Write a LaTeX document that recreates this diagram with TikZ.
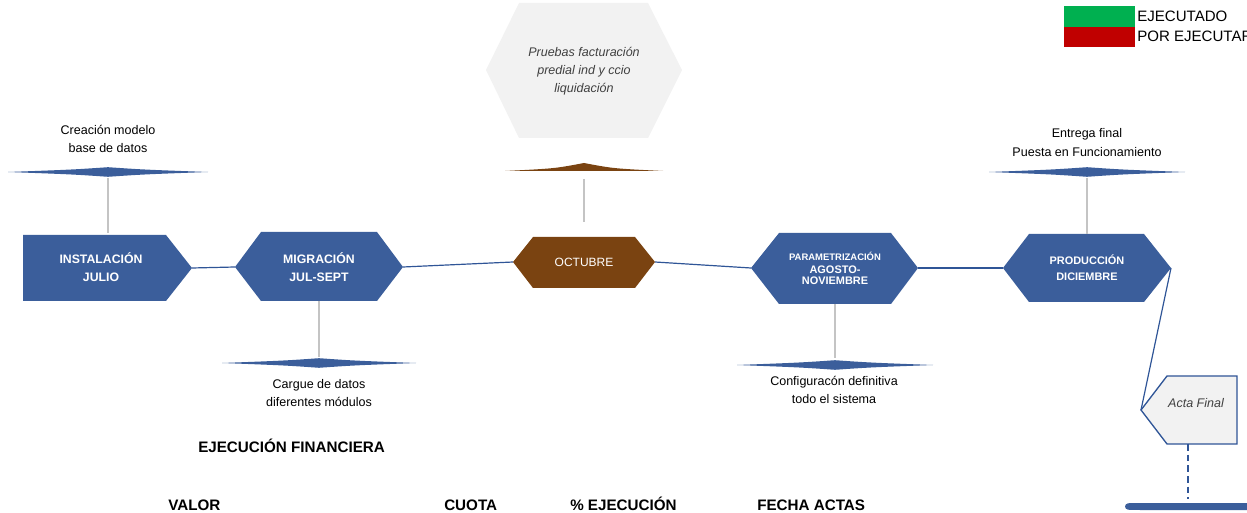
\documentclass[tikz,border=0pt]{standalone}
\usepackage{fontspec}
\setmainfont{Liberation Sans}
\definecolor{nblue}{RGB}{59,94,155}
\definecolor{lblue}{RGB}{47,85,151}
\definecolor{brn}{RGB}{122,67,17}
\definecolor{lgray}{RGB}{242,242,242}
\definecolor{stemc}{RGB}{196,196,196}
\definecolor{itx}{RGB}{64,64,64}
\definecolor{gok}{RGB}{0,176,80}
\definecolor{rno}{RGB}{192,0,0}
\newcommand\fdia[4]{\fill[#4] ({#1-#3},#2) .. controls ({#1-0.35*#3},{#2-2.4}) .. (#1,{#2-4.8}) .. controls ({#1+0.35*#3},{#2-2.4}) .. ({#1+#3},#2) .. controls ({#1+0.35*#3},{#2+2.4}) .. (#1,{#2+4.8}) .. controls ({#1-0.35*#3},{#2+2.4}) .. cycle;}
\begin{document}
\begin{tikzpicture}[x=0.75pt,y=-0.75pt,
  lbl/.style={font=\fontsize{9.4}{13.5}\selectfont, align=center, inner sep=0pt, text=black},
  wlbl/.style={font=\bfseries\fontsize{9.2}{13.5}\selectfont, align=center, inner sep=0pt, text=white},
  ilbl/.style={font=\itshape\fontsize{9.4}{13.5}\selectfont, align=center, inner sep=0pt, text=itx},
  hbold/.style={font=\bfseries\fontsize{11.4}{13}\selectfont, inner sep=0pt, anchor=base west},
  leg/.style={font=\fontsize{11.3}{13}\selectfont, inner sep=0pt, anchor=base west},
  conn/.style={draw=lblue, line width=0.9pt},
  stem/.style={draw=stemc, line width=1.1pt},
]
\useasboundingbox (0,0) rectangle (1247,513);
\clip (0,0) rectangle (1247,513);

% legend
\fill[gok] (1064,6) rectangle (1135,27);
\fill[rno] (1064,27) rectangle (1135,47);
\node[leg] (lega) at (1137,21.4) {EJECUTADO};
\node[leg] (legb) at (1137,41.4) {POR EJECUTAR};

% shapes
\fill[nblue] (23,235) -- (166,235) -- (192,268) -- (166,301) -- (23,301) -- cycle;
\fill[nblue] (235,267) -- (261,232) -- (377,232) -- (403,267) -- (377,301) -- (261,301) -- cycle;
\fill[brn] (513,262) -- (533,237) -- (635,237) -- (655,262) -- (635,288) -- (533,288) -- cycle;
\fill[lgray] (486,70) -- (519,3) -- (648,3) -- (682,70) -- (648,138) -- (519,138) -- cycle;
\fill[nblue] (751,268) -- (779,233) -- (891,233) -- (918,268) -- (891,304) -- (779,304) -- cycle;
\fill[nblue] (1003,268) -- (1029,234) -- (1144,234) -- (1171,268) -- (1144,302) -- (1029,302) -- cycle;
\filldraw[fill=lgray, draw=lblue, line width=1pt] (1141,410) -- (1167,376) -- (1237,376) -- (1237,444) -- (1167,444) -- cycle;

% flat diamonds
\fdia{108}{172}{100}{nblue}
\fdia{319}{363}{97}{nblue}
\fdia{835}{365}{98}{nblue}
\fdia{1087}{172}{98}{nblue}
\fill[brn] (505,171) .. controls (555,168.5) .. (584,163) .. controls (613,168.5) .. (663,171) -- cycle;
\fill[nblue] (1125,506.5) .. controls (1126,503) .. (1140,503) -- (1250,503) -- (1250,510) -- (1140,510) .. controls (1126,510) .. cycle;

% named coordinates
\coordinate (inst-e) at (192,268);
\coordinate (inst-n) at (108,233);
\coordinate (mig-w) at (235,267);
\coordinate (mig-e) at (403,267);
\coordinate (mig-s) at (319,301);
\coordinate (oct-w) at (513,262);
\coordinate (oct-e) at (655,262);
\coordinate (oct-n) at (584,222);
\coordinate (par-w) at (751,268);
\coordinate (par-e) at (918,268);
\coordinate (par-s) at (835,304);
\coordinate (prod-w) at (1003,268);
\coordinate (prod-e) at (1171,268);
\coordinate (prod-n) at (1087,234);
\coordinate (acta-w) at (1141,410);
\coordinate (acta-s) at (1188,444);
\coordinate (cre-d) at (108,178);
\coordinate (carg-d) at (319,357);
\coordinate (oct-d) at (584,179);
\coordinate (conf-d) at (835,358);
\coordinate (entr-d) at (1087,178);
\coordinate (bar-d) at (1188,499);

% connectors
\draw[conn] (inst-e) -- (mig-w);
\draw[conn] (mig-e) -- (oct-w);
\draw[conn] (oct-e) -- (par-w);
\draw[conn] (par-e) -- (prod-w);
\draw[conn] (prod-e) -- (acta-w);
\draw[conn, dash pattern=on 5pt off 3pt] (acta-s) -- (bar-d);
\draw[stem] (cre-d) -- (inst-n);
\draw[stem] (mig-s) -- (carg-d);
\draw[stem] (oct-d) -- (oct-n);
\draw[stem] (par-s) -- (conf-d);
\draw[stem] (entr-d) -- (prod-n);

% texts in shapes
\node[wlbl] (tinst) at (101,267) {INSTALACIÓN\\JULIO};
\node[wlbl] (tmig) at (319,267) {MIGRACIÓN\\JUL-SEPT};
\node[font=\fontsize{9}{11}\selectfont, text=white, inner sep=0pt] (toct) at (584,262.5) {OCTUBRE};
\node[wlbl, font=\bfseries\fontsize{7.1}{8.5}\selectfont] (tpar1) at (835,256) {PARAMETRIZACIÓN};
\node[wlbl, font=\bfseries\fontsize{8.2}{8.3}\selectfont] (tpar2) at (835,275.5) {AGOSTO-\\NOVIEMBRE};
\node[wlbl, font=\bfseries\fontsize{8.2}{12}\selectfont] (tprod) at (1087,268) {PRODUCCIÓN\\DICIEMBRE};
\node[ilbl] (tprue) at (584,71) {Pruebas facturación\\predial ind y ccio\\liquidación};
\node[ilbl] (tacta) at (1196,403) {Acta Final};

% labels
\node[lbl] (tcre) at (108,139) {Creación modelo\\base de datos};
\node[lbl] (tcarg) at (319,393) {Cargue de datos\\diferentes módulos};
\node[lbl] (tconf) at (834,389.5) {Configuracón definitiva\\todo el sistema};
\node[lbl, font=\fontsize{9.4}{14.2}\selectfont] (tentr) at (1087,142.5) {Entrega final\\Puesta en Funcionamiento};

% financial
\node[hbold] (tfin) at (198,452.5) {EJECUCIÓN FINANCIERA};
\node[hbold] (tval) at (168,510.5) {VALOR};
\node[hbold] (tcuo) at (444,510.5) {CUOTA};
\node[hbold] (tpor) at (570,510.5) {\% EJECUCIÓN};
\node[hbold] (tfec) at (757,510.5) {FECHA ACTAS};
\end{tikzpicture}
\end{document}
